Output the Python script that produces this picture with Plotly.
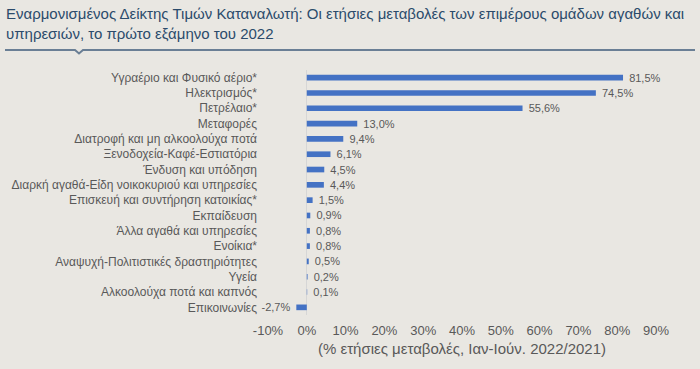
import plotly.graph_objects as go

categories = [
    "Υγραέριο και Φυσικό αέριο*",
    "Ηλεκτρισμός*",
    "Πετρέλαιο*",
    "Μεταφορές",
    "Διατροφή και μη αλκοολούχα ποτά",
    "Ξενοδοχεία-Καφέ-Εστιατόρια",
    "Ένδυση και υπόδηση",
    "Διαρκή αγαθά-Είδη νοικοκυριού και υπηρεσίες",
    "Επισκευή και συντήρηση κατοικίας*",
    "Εκπαίδευση",
    "Άλλα αγαθά και υπηρεσίες",
    "Ενοίκια*",
    "Αναψυχή-Πολιτιστικές δραστηριότητες",
    "Υγεία",
    "Αλκοολούχα ποτά και καπνός",
    "Επικοινωνίες",
]
values = [81.5, 74.5, 55.6, 13.0, 9.4, 6.1, 4.5, 4.4, 1.5, 0.9, 0.8, 0.8, 0.5, 0.2, 0.1, -2.7]
tick_values = [-10, 0, 10, 20, 30, 40, 50, 60, 70, 80, 90]
tick_labels = ["-10%", "0%", "10%", "20%", "30%", "40%", "50%", "60%", "70%", "80%", "90%"]

NB = "\u00a0\u00a0"
labels = []
for v in values:
    s = ("%.1f%%" % v).replace(".", ",")
    labels.append(NB + s if v >= 0 else s + NB)

W, H = 700, 369
ML, MR, MT, MB = 268, 44, 70, 54
pw = W - ML - MR
ph = H - MT - MB

def px(x):
    return (x - ML) / pw

def py(y):
    return (H - MB - y) / ph

bg = "#e9e7e2"
gray = "#595959"
FONT = "Liberation Sans, Arial, sans-serif"

fig = go.Figure(go.Bar(
    x=values, y=categories, orientation="h",
    marker=dict(color="#4472c4", line=dict(width=0)),
    width=0.37,
    text=labels, textposition="outside", cliponaxis=False, constraintext="none",
    textfont=dict(family=FONT, size=11, color=gray),
    hoverinfo="skip",
))

fig.update_layout(
    width=W, height=H,
    margin=dict(l=ML, r=MR, t=MT, b=MB, autoexpand=False),
    paper_bgcolor=bg, plot_bgcolor=bg,
    showlegend=False,
    font=dict(family=FONT, size=11, color=gray),
    xaxis=dict(
        range=[-10, 90], tickvals=tick_values, ticktext=tick_labels,
        showgrid=False, zeroline=True, zerolinecolor="#d6d6d6", zerolinewidth=1,
        showline=False, ticks="", ticklabelstandoff=6,
        tickfont=dict(size=13, color=gray),
        title=dict(text="(% ετήσιες μεταβολές, Ιαν-Ιούν. 2022/2021)",
                   font=dict(size=15, color=gray), standoff=6),
        fixedrange=True,
    ),
    yaxis=dict(
        autorange="reversed", showgrid=False, showline=False, ticks="",
        ticklabelstandoff=10, tickfont=dict(size=12, color=gray),
        automargin=False, fixedrange=True,
    ),
    annotations=[
        dict(text="Εναρμονισμένος Δείκτης Τιμών Καταναλωτή: Οι ετήσιες μεταβολές των επιμέρους ομάδων αγαθών και<br>υπηρεσιών, το πρώτο εξάμηνο του 2022",
             xref="paper", yref="paper", x=px(4), y=py(3), xanchor="left", yanchor="top",
             align="left", showarrow=False,
             font=dict(family=FONT, size=15, color="#2b4b6b")),
    ],
    shapes=[
        dict(type="path", xref="paper", yref="paper",
             path="M %f %f L %f %f L %f %f L %f %f L %f %f" % (
                 px(5), py(50), px(75), py(50), px(79), py(53.5), px(83), py(50), px(695), py(50)),
             line=dict(color="#6a7f95", width=2)),
    ],
)

fig.write_html("out.html", config={"displayModeBar": False, "staticPlot": True},
               post_script="document.body.style.margin='0';document.body.style.overflow='hidden';")
